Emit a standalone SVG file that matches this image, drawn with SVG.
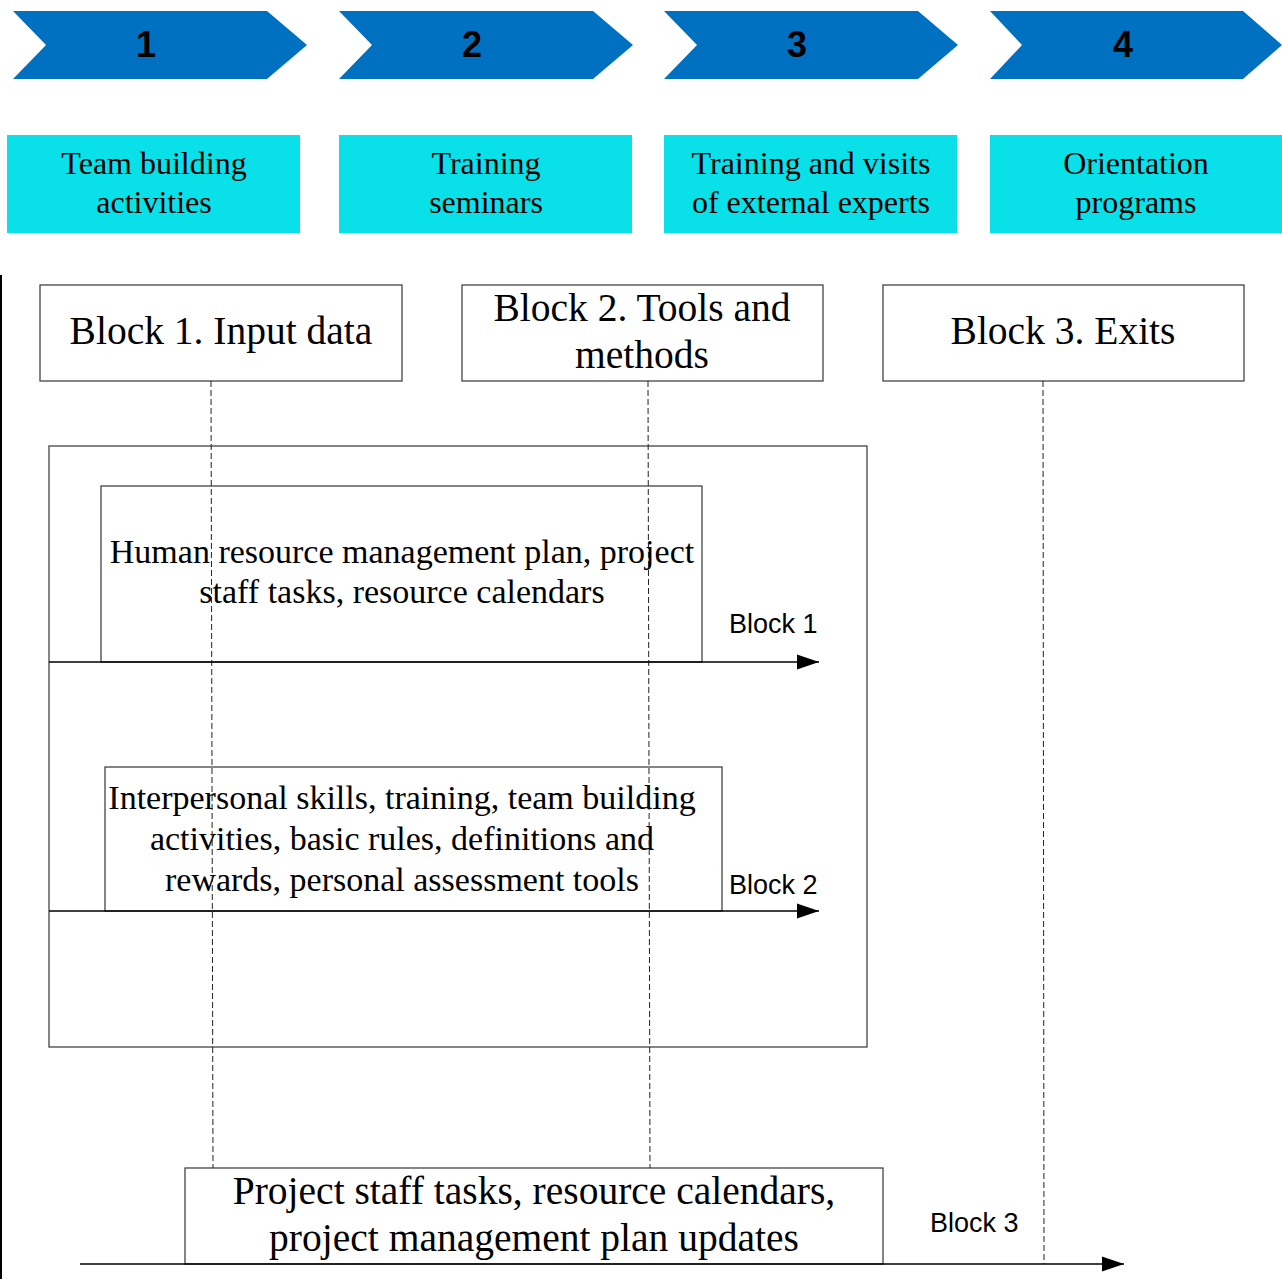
<svg xmlns="http://www.w3.org/2000/svg" width="1282" height="1279" viewBox="0 0 1282 1279">
<defs>
<style>
.chev{fill:#0070C0}
.num{font-family:"Liberation Sans",Arial,sans-serif;font-weight:bold;font-size:36px;fill:#000;text-anchor:middle}
.cyan{fill:#0AE0E8}
.ct{font-family:"Liberation Serif","Times New Roman",serif;font-size:32px;fill:#000;text-anchor:middle}
.box{fill:#fff;stroke:#444;stroke-width:1.3}
.frame{fill:none;stroke:#444;stroke-width:1.3}
.bt{font-family:"Liberation Serif","Times New Roman",serif;font-size:39.5px;fill:#000;text-anchor:middle}
.it{font-family:"Liberation Serif","Times New Roman",serif;font-size:34px;fill:#000;text-anchor:middle}
.lbl{font-family:"Liberation Sans",Arial,sans-serif;font-size:27px;fill:#000}
.dash{stroke:#222;stroke-width:1;stroke-dasharray:6,3;fill:none}
.arr{stroke:#000;stroke-width:1.5;fill:none;marker-end:url(#ah)}
</style>
<marker id="ah" markerUnits="userSpaceOnUse" markerWidth="24" markerHeight="16" refX="22" refY="8" orient="auto">
<path d="M0,0.5 L22,8 L0,15.5 Z" fill="#000"/>
</marker>
</defs>
<rect width="1282" height="1279" fill="#fff"/>

<g id="step1"><polygon class="chev" points="13,11 267,11 307,45 267,79 13,79 46,45"/><text class="num" x="146" y="57">1</text></g>
<g id="step2"><polygon class="chev" points="339,11 593,11 633,45 593,79 339,79 372,45"/><text class="num" x="472" y="57">2</text></g>
<g id="step3"><polygon class="chev" points="664,11 918,11 958,45 918,79 664,79 697,45"/><text class="num" x="797" y="57">3</text></g>
<g id="step4"><polygon class="chev" points="990,11 1243,11 1282,45 1243,79 990,79 1022,45"/><text class="num" x="1123" y="57">4</text></g>

<g id="act1"><rect class="cyan" x="7" y="135" width="293" height="98"/><text class="ct" x="154" y="174">Team building</text><text class="ct" x="154" y="213">activities</text></g>
<g id="act2"><rect class="cyan" x="339" y="135" width="293" height="98"/><text class="ct" x="486" y="174">Training</text><text class="ct" x="486" y="213">seminars</text></g>
<g id="act3"><rect class="cyan" x="664" y="135" width="293" height="98"/><text class="ct" x="811" y="174">Training and visits</text><text class="ct" x="811" y="213">of external experts</text></g>
<g id="act4"><rect class="cyan" x="990" y="135" width="292" height="98"/><text class="ct" x="1136" y="174">Orientation</text><text class="ct" x="1136" y="213">programs</text></g>

<line x1="1" y1="275" x2="1" y2="1279" stroke="#000" stroke-width="2"/>

<g id="frame"><rect class="frame" x="49" y="446" width="818" height="601"/></g>

<g id="block1"><rect class="box" x="40" y="285" width="362" height="96"/><text class="bt" x="221" y="344">Block 1. Input data</text></g>
<g id="block2"><rect class="box" x="462" y="285" width="361" height="96"/><text class="bt" x="642" y="321">Block 2. Tools and</text><text class="bt" x="642" y="368">methods</text></g>
<g id="block3"><rect class="box" x="883" y="285" width="361" height="96"/><text class="bt" x="1063" y="344">Block 3. Exits</text></g>

<g id="inner1"><rect class="box" x="101" y="486" width="601" height="176"/><text class="it" x="402" y="563">Human resource management plan, project</text><text class="it" x="402" y="603">staff tasks, resource calendars</text></g>
<g id="inner2"><rect class="box" x="105" y="767" width="617" height="144"/><text class="it" x="402" y="809">Interpersonal skills, training, team building</text><text class="it" x="402" y="850">activities, basic rules, definitions and</text><text class="it" x="402" y="891">rewards, personal assessment tools</text></g>
<g id="output"><rect class="box" x="185" y="1168" width="698" height="96"/><text class="bt" x="534" y="1204">Project staff tasks, resource calendars,</text><text class="bt" x="534" y="1251">project management plan updates</text></g>

<g id="connectors">
<line class="dash" x1="211" y1="381" x2="213" y2="1168"/>
<line class="dash" x1="648" y1="381" x2="650" y2="1168"/>
<line class="dash" x1="1043" y1="381" x2="1044" y2="1264"/>
<line class="arr" x1="49" y1="662" x2="819" y2="662"/>
<line class="arr" x1="49" y1="911" x2="819" y2="911"/>
<line class="arr" x1="80" y1="1264" x2="1124" y2="1264"/>
<text class="lbl" x="729" y="633">Block 1</text>
<text class="lbl" x="729" y="894">Block 2</text>
<text class="lbl" x="930" y="1232">Block 3</text>
</g>
</svg>
